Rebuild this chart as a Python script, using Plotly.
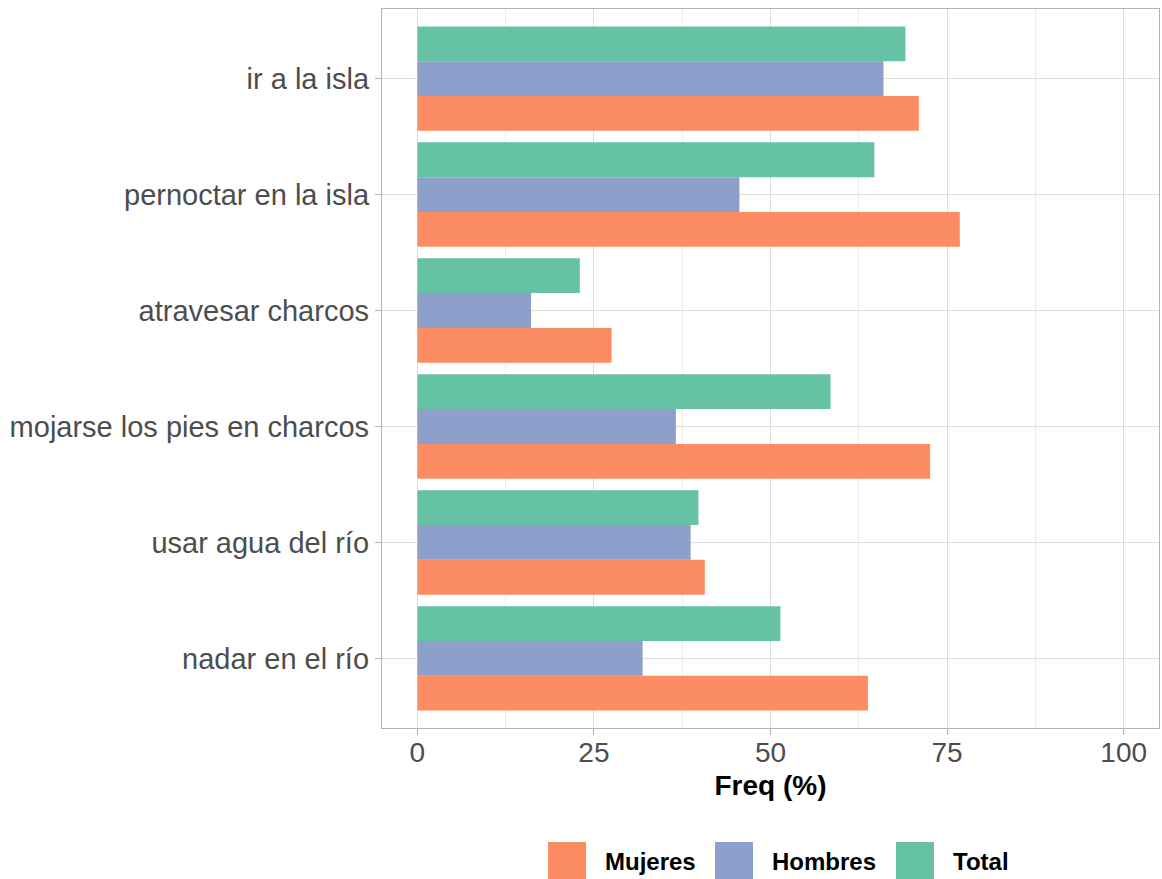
import plotly.graph_objects as go

categories = ["nadar en el río", "usar agua del río", "mojarse los pies en charcos",
              "atravesar charcos", "pernoctar en la isla", "ir a la isla"]
mujeres = [63.8, 40.7, 72.6, 27.5, 76.8, 71.0]
hombres = [31.9, 38.7, 36.6, 16.1, 45.6, 66.0]
total = [51.4, 39.8, 58.5, 23.0, 64.7, 69.1]
series_names = ["Mujeres", "Hombres", "Total"]
series_colors = ["#FC8D62", "#8DA0CB", "#66C2A5"]
x_ticks = [0, 25, 50, 75, 100]

W, H = 1162, 879
ml, mr, mt, mb = 382, 3, 9, 151
pw, ph = W - ml - mr, H - mt - mb

fig = go.Figure()
for name, vals, col in zip(series_names, [mujeres, hombres, total], series_colors):
    fig.add_trace(go.Bar(y=categories, x=vals, name=name, orientation="h",
                         marker=dict(color=col, line=dict(width=0)), showlegend=False))

fig.update_layout(
    width=W, height=H, margin=dict(l=ml, r=mr, t=mt, b=mb, autoexpand=False),
    barmode="group", bargap=0.1, bargroupgap=0,
    plot_bgcolor="white", paper_bgcolor="white",
    font=dict(family="Liberation Sans, Arial, sans-serif"),
)
fig.update_xaxes(
    range=[-5, 105], tickvals=x_ticks, ticktext=[str(v) for v in x_ticks],
    showgrid=True, gridcolor="#dedede", gridwidth=1,
    minor=dict(dtick=12.5, tick0=0, showgrid=True, gridcolor="#ededed", gridwidth=0.6, ticks=""),
    ticks="outside", ticklen=6, tickcolor="#b3b3b3", tickwidth=1,
    ticklabelstandoff=-7,
    tickfont=dict(size=28, color="#4d4d4d"),
    showline=True, linecolor="#b3b3b3", linewidth=1.3, mirror=True, zeroline=False,
    title=dict(text="<b>Freq (%)</b>", font=dict(size=28, color="black"), standoff=8),
)
fig.update_yaxes(
    categoryorder="array", categoryarray=categories, range=[-0.6, 5.6],
    showgrid=True, gridcolor="#dedede", gridwidth=1,
    ticks="outside", ticklen=6, tickcolor="#b3b3b3", tickwidth=1,
    tickfont=dict(size=29, color="#4d4d4d"),
    showline=True, linecolor="#b3b3b3", linewidth=1.3, mirror=True, zeroline=False,
)

# legend drawn at bottom: swatches + labels (page pixel positions)
sw = 38
leg_x0 = [548, 715, 896]
leg_top = 842
for x0, name, col in zip(leg_x0, series_names, series_colors):
    fig.add_shape(type="rect", xref="paper", yref="paper",
                  x0=(x0 - ml) / pw, x1=(x0 + sw - ml) / pw,
                  y0=(H - mb - leg_top) / ph, y1=(H - mb - leg_top - sw) / ph,
                  fillcolor=col, line=dict(width=0), layer="above")
    fig.add_annotation(xref="paper", yref="paper", x=(x0 + sw + 17 - ml) / pw,
                       y=(H - mb - leg_top - sw / 2 - 1) / ph, xanchor="left", yanchor="middle",
                       text=f"<b>{name}</b>", showarrow=False,
                       font=dict(size=24, color="black"))

fig.write_html("out.html", config={"displayModeBar": False},
               post_script="document.body.style.margin='0';document.body.style.overflow='hidden';")
